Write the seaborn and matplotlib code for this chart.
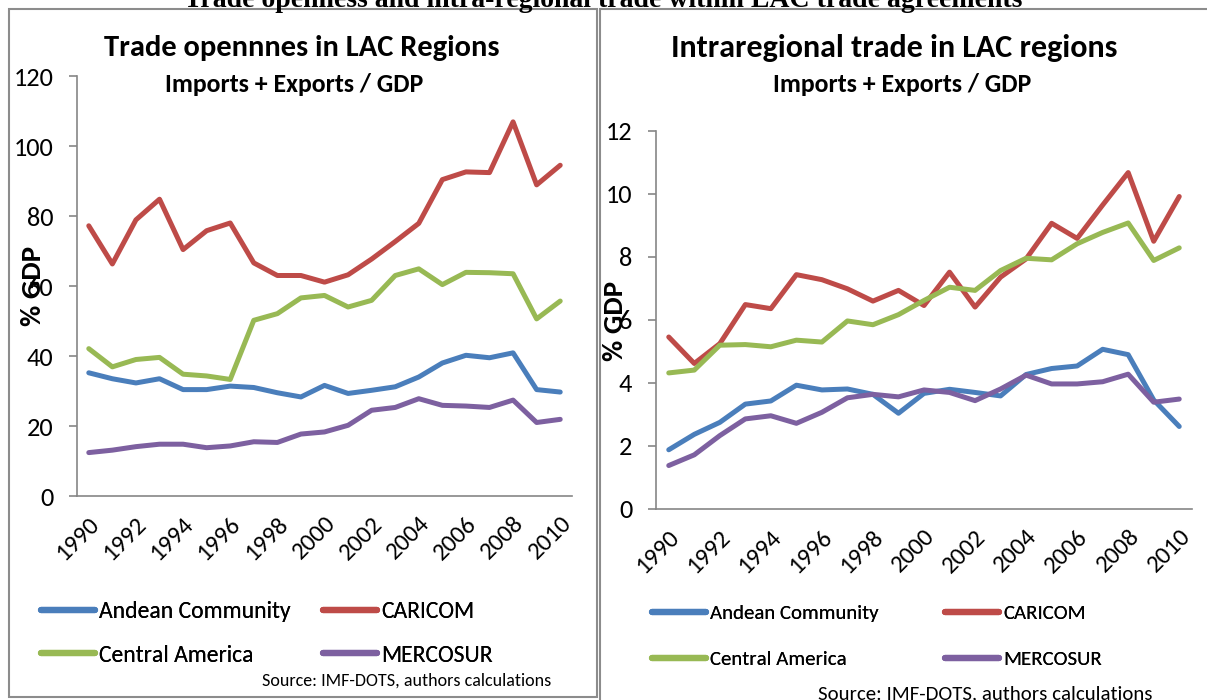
import pandas as pd
import matplotlib.pyplot as plt
import seaborn as sns
from matplotlib.patches import Rectangle

# data
years = list(range(1990, 2011))
year_labels = [str(y) for y in years]
series_names = ['Andean Community', 'CARICOM', 'Central America', 'MERCOSUR']

# left panel: trade openness, % GDP
open_andean = [35.2, 33.5, 32.3, 33.5, 30.4, 30.4, 31.4, 31.0, 29.5, 28.3, 31.6,
               29.3, 30.2, 31.2, 34.0, 38.0, 40.2, 39.5, 40.9, 30.4, 29.7]
open_caricom = [77.2, 66.3, 78.9, 84.8, 70.4, 75.8, 78.0, 66.6, 63.0, 63.0, 61.1,
                63.2, 67.7, 72.7, 77.9, 90.4, 92.6, 92.4, 106.9, 88.9, 94.5]
open_central = [42.1, 36.9, 39.0, 39.6, 34.8, 34.3, 33.3, 50.2, 52.1, 56.6, 57.3,
                54.0, 55.9, 63.0, 64.9, 60.4, 63.9, 63.8, 63.5, 50.6, 55.7]
open_mercosur = [12.4, 13.1, 14.1, 14.8, 14.8, 13.8, 14.3, 15.5, 15.3, 17.7, 18.3,
                 20.2, 24.5, 25.3, 27.8, 25.9, 25.7, 25.3, 27.4, 21.0, 21.9]

# right panel: intraregional trade, % GDP
intra_andean = [1.88, 2.37, 2.75, 3.33, 3.43, 3.93, 3.78, 3.81, 3.64, 3.04, 3.67,
                3.80, 3.70, 3.59, 4.27, 4.46, 4.54, 5.07, 4.90, 3.46, 2.62]
intra_caricom = [5.46, 4.62, 5.25, 6.49, 6.36, 7.44, 7.28, 6.99, 6.60, 6.94, 6.46,
                 7.52, 6.41, 7.36, 7.94, 9.07, 8.59, 9.65, 10.68, 8.50, 9.92]
intra_central = [4.32, 4.41, 5.20, 5.22, 5.15, 5.36, 5.30, 5.97, 5.85, 6.17, 6.62,
                 7.04, 6.94, 7.57, 7.96, 7.91, 8.42, 8.78, 9.08, 7.89, 8.29]
intra_mercosur = [1.38, 1.72, 2.33, 2.86, 2.96, 2.72, 3.07, 3.53, 3.64, 3.56, 3.78,
                  3.70, 3.44, 3.81, 4.25, 3.97, 3.97, 4.04, 4.28, 3.39, 3.49]

colors = {'Andean Community': '#4A7EBB', 'CARICOM': '#BE4B48',
          'Central America': '#98B954', 'MERCOSUR': '#7D60A0'}


def long_table(andean, caricom, central, mercosur):
    frames = []
    for name, vals in zip(series_names, [andean, caricom, central, mercosur]):
        frames.append(pd.DataFrame({'idx': range(len(years)), 'value': vals, 'group': name}))
    return pd.concat(frames, ignore_index=True)


df_open = long_table(open_andean, open_caricom, open_central, open_mercosur)
df_intra = long_table(intra_andean, intra_caricom, intra_central, intra_mercosur)

sns.set_style('white')
plt.rcParams['font.family'] = ['Carlito', 'Lato', 'DejaVu Sans']
plt.rcParams['text.color'] = 'black'
plt.rcParams['xtick.color'] = 'black'
plt.rcParams['ytick.color'] = 'black'

fig = plt.figure(figsize=(12.07, 7.0), dpi=100)
W, H = 1207.0, 700.0

# panel frames
fig.patches.append(Rectangle((9 / W, 1 - 697 / H), 588 / W, 688 / H, transform=fig.transFigure,
                             fill=False, edgecolor='#8c8c8c', linewidth=1.5))
fig.patches.append(Rectangle((600 / W, -0.05), 700 / W, 1 - 9 / H + 0.05, transform=fig.transFigure,
                             fill=False, edgecolor='#8c8c8c', linewidth=1.5))

# main title, cut off at the top edge as in the reference
fig.text(603 / W, 1 - 7 / H, 'Trade openness and intra-regional trade within LAC trade agreements',
         family='Liberation Serif', weight='bold', fontsize=20, ha='center', va='baseline')

ax1 = fig.add_axes([77 / W, 1 - 496 / H, (572 - 77) / W, (496 - 76) / H])
ax2 = fig.add_axes([656 / W, 1 - 509 / H, (1192 - 656) / W, (509 - 131) / H])


def style_axes(ax, df, ymax, ystep):
    sns.lineplot(data=df, x='idx', y='value', hue='group', palette=colors,
                 linewidth=3.6, ax=ax, legend=False, sort=False)
    ax.set_xlim(-0.5, len(years) - 0.5)
    ax.set_ylim(0, ymax)
    ax.set_yticks(range(0, ymax + 1, ystep))
    ax.set_xticks(range(0, len(years), 2))
    ax.set_xticklabels(year_labels[::2], rotation=45, ha='right', rotation_mode='anchor')
    ax.set_xticks([i - 0.5 for i in range(len(years) + 1)], minor=True)
    ax.tick_params(axis='x', which='major', length=0, labelsize=18, pad=12)
    ax.tick_params(axis='x', which='minor', length=7, color='#868686', width=1.2, direction='out')
    ax.tick_params(axis='y', length=6, color='#868686', width=1.2, labelsize=19, pad=11, left=True)
    ax.set_xlabel('')
    ax.set_ylabel('')
    for s in ['top', 'right']:
        ax.spines[s].set_visible(False)
    for s in ['left', 'bottom']:
        ax.spines[s].set_color('#868686')
        ax.spines[s].set_linewidth(1.2)
    ax.patch.set_alpha(0)


style_axes(ax1, df_open, 120, 20)
style_axes(ax2, df_intra, 12, 2)

# titles
fig.text(302 / W, 1 - 48 / H, 'Trade opennnes in LAC Regions', fontsize=22, weight='bold',
         ha='center', va='center')
fig.text(294 / W, 1 - 84 / H, 'Imports + Exports / GDP', fontsize=18.5, weight='bold',
         ha='center', va='center')
fig.text(894 / W, 1 - 48 / H, 'Intraregional trade in LAC regions', fontsize=23, weight='bold',
         ha='center', va='center')
fig.text(902 / W, 1 - 84 / H, 'Imports + Exports / GDP', fontsize=18.5, weight='bold',
         ha='center', va='center')

# y axis labels
fig.text(33 / W, 1 - 286 / H, '% GDP', fontsize=21, weight='bold', rotation=90,
         ha='center', va='center')
fig.text(615 / W, 1 - 321 / H, '% GDP', fontsize=21, weight='bold', rotation=90,
         ha='center', va='center')


# legends: one entry per legend so every handle sits where the reference has it
def legend_entry(name, x, y, size):
    h = plt.Line2D([], [], color=colors[name], linewidth=4.5, solid_capstyle='round')
    px = size * 100 / 72.0
    leg = fig.legend([h], [name], loc='center left', bbox_to_anchor=(x / W, 1 - y / H),
                     frameon=False, fontsize=size, handlelength=54 / px, handletextpad=4 / px,
                     borderpad=0, borderaxespad=0)
    fig.add_artist(leg)


legend_entry('Andean Community', 41, 612, 17)
legend_entry('CARICOM', 323, 612, 17)
legend_entry('Central America', 41, 655, 17)
legend_entry('MERCOSUR', 323, 655, 17)
legend_entry('Andean Community', 652, 613, 15)
legend_entry('CARICOM', 945, 613, 15)
legend_entry('Central America', 652, 659, 15)
legend_entry('MERCOSUR', 945, 659, 15)

fig.text(551 / W, 1 - 681 / H, 'Source: IMF-DOTS, authors calculations', fontsize=13,
         ha='right', va='center')
fig.text(1152 / W, 1 - 694 / H, 'Source: IMF-DOTS, authors calculations', fontsize=15,
         ha='right', va='center')

fig.savefig('out.png', dpi=100)
